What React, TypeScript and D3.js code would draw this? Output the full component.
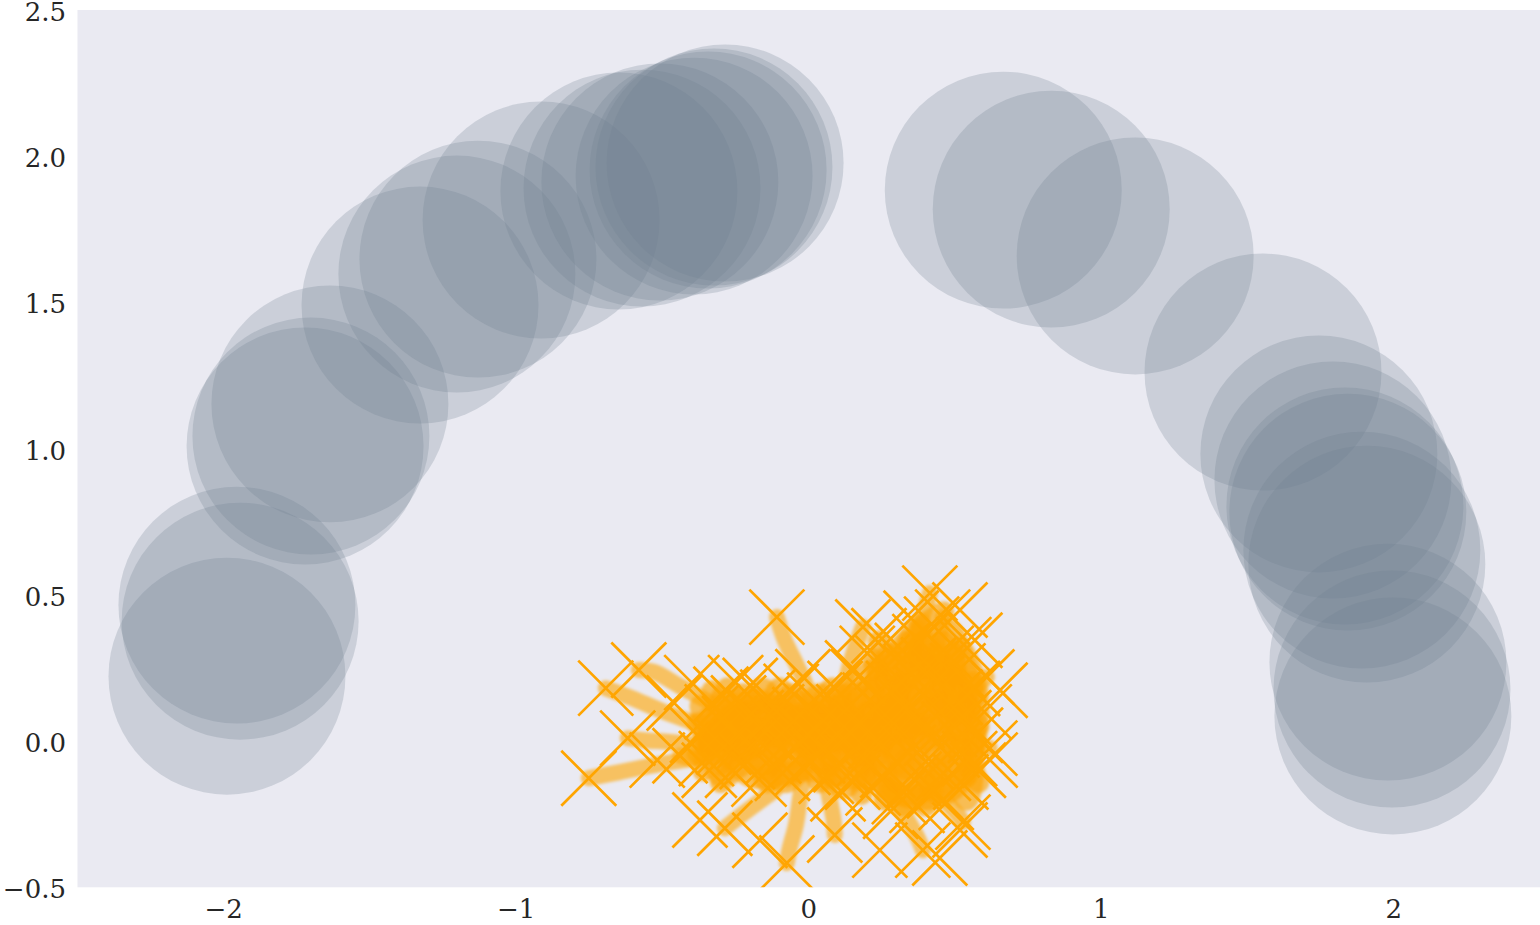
import React from 'react';
import * as d3 from 'd3';

const W = 1540;
const H = 925;

// Axis ticks
const xTicks = [-2, -1, 0, 1, 2];
const yTicks = [-0.5, 0, 0.5, 1, 1.5, 2, 2.5];

// Obstacle circles (centres, data units)
const circleX = [
  -1.989, -1.955, -1.944, -1.722, -1.702, -1.637, -1.329, -1.203, -1.131, -0.915,
  -0.649, -0.570, -0.509, -0.392, -0.344, -0.324, -0.286,
  0.665, 0.829, 1.116, 1.553, 1.744, 1.792, 1.833, 1.843, 1.891, 1.908, 1.980, 1.994, 1.997,
];
const circleY = [
  0.222, 0.465, 0.410, 1.009, 1.043, 1.153, 1.491, 1.597, 1.648, 1.782,
  1.881, 1.891, 1.912, 1.932, 1.953, 1.963, 1.977,
  1.884, 1.819, 1.659, 1.262, 0.982, 0.893, 0.804, 0.783, 0.653, 0.605, 0.270, 0.178, 0.086,
];
const circleRadius = 0.405;

// Agent trails that leave the central swarm
const outerTrails: number[][][] = [
  [[-0.356, -0.055], [-0.510, -0.079], [-0.646, -0.106], [-0.752, -0.127]],
  [[-0.339, 0.044], [-0.492, 0.099], [-0.605, 0.147], [-0.694, 0.181]],
  [[-0.321, 0.123], [-0.441, 0.188], [-0.527, 0.236], [-0.581, 0.243]],
  [[0.010, 0.123], [-0.010, 0.192], [-0.041, 0.260], [-0.082, 0.345], [-0.109, 0.424]],
  [[0.113, 0.140], [0.140, 0.260], [0.168, 0.345], [0.185, 0.390]],
  [[0.352, 0.209], [0.363, 0.311], [0.386, 0.414], [0.407, 0.482], [0.414, 0.506]],
  [[-0.021, -0.133], [-0.031, -0.202], [-0.044, -0.287], [-0.065, -0.366], [-0.075, -0.417]],
  [[0.055, -0.116], [0.072, -0.202], [0.085, -0.270], [0.089, -0.321]],
  [[-0.116, -0.168], [-0.185, -0.219], [-0.243, -0.263], [-0.287, -0.298]],
  [[0.277, -0.168], [0.328, -0.253], [0.373, -0.332], [0.390, -0.373]],
  [[0.414, -0.133], [0.465, -0.202], [0.510, -0.253], [0.527, -0.277]],
  [[-0.373, -0.014], [-0.475, -0.003], [-0.561, 0.003], [-0.619, 0.010]],
  [[0.482, 0.140], [0.557, 0.174], [0.609, 0.219]],
  [[0.516, 0.003], [0.585, -0.014], [0.619, -0.024]],
  [[0.431, 0.277], [0.448, 0.363], [0.458, 0.424]],
  [[-0.30, -0.02], [-0.38, -0.06], [-0.44, -0.05]],
];

// Agent trails inside the dense swarm
const coreTrails: number[][][] = [
  [[-0.36, 0.00], [-0.25, 0.08], [-0.12, 0.02], [0.00, 0.10], [0.12, 0.04], [0.25, 0.12], [0.40, 0.05], [0.55, 0.12]],
  [[-0.34, 0.08], [-0.22, -0.04], [-0.10, 0.07], [0.02, -0.03], [0.15, 0.07], [0.28, -0.02], [0.42, 0.12], [0.54, 0.00]],
  [[-0.30, -0.08], [-0.18, 0.12], [-0.06, -0.06], [0.06, 0.12], [0.18, -0.05], [0.32, 0.20], [0.46, -0.05], [0.56, 0.20]],
  [[-0.28, 0.14], [-0.15, -0.10], [-0.03, 0.14], [0.08, -0.08], [0.20, 0.18], [0.34, -0.10], [0.48, 0.22], [0.58, 0.05]],
  [[0.22, 0.28], [0.30, 0.10], [0.38, 0.30], [0.45, 0.12], [0.50, 0.30], [0.42, -0.15], [0.30, -0.18], [0.22, -0.10]],
  [[0.28, 0.25], [0.36, -0.02], [0.44, -0.18], [0.52, -0.08], [0.48, 0.08], [0.40, 0.22], [0.33, 0.34], [0.26, 0.20]],
  [[-0.38, -0.04], [-0.30, 0.04], [-0.22, 0.16], [-0.14, 0.06], [-0.08, -0.12], [0.04, 0.03], [0.10, -0.12], [0.16, 0.16]],
  [[0.38, 0.40], [0.41, 0.28], [0.46, 0.34], [0.52, 0.18], [0.57, -0.02], [0.50, -0.16], [0.38, -0.20], [0.26, -0.16]],
  [[-0.20, 0.05], [-0.05, 0.00], [0.10, 0.00], [0.25, 0.04], [0.40, 0.00]],
  [[-0.32, 0.02], [-0.20, -0.12], [0.00, -0.10], [0.18, -0.12], [0.34, 0.16], [0.50, 0.10]],
  [[-0.37, 0.12], [-0.30, -0.12], [-0.22, 0.10], [-0.14, -0.14], [-0.06, 0.16], [0.04, -0.14], [0.12, 0.16], [0.20, -0.14]],
  [[-0.36, -0.10], [-0.28, 0.18], [-0.18, -0.02], [-0.10, 0.18], [-0.02, -0.02], [0.08, 0.18], [0.16, -0.02], [0.24, 0.24]],
  [[-0.33, 0.17], [-0.24, 0.00], [-0.16, 0.18], [-0.06, 0.04], [0.04, 0.16], [0.14, -0.06], [0.22, 0.10], [0.30, -0.08]],
  [[-0.30, -0.14], [-0.18, -0.06], [-0.08, -0.14], [0.02, -0.06], [0.12, -0.16], [0.22, -0.04], [0.32, -0.22], [0.44, -0.10]],
  [[0.24, 0.34], [0.30, 0.22], [0.36, 0.38], [0.42, 0.22], [0.48, 0.38], [0.54, 0.24], [0.58, 0.10], [0.54, -0.12]],
  [[0.26, -0.20], [0.34, -0.06], [0.40, -0.22], [0.46, -0.08], [0.54, -0.20], [0.56, 0.00], [0.50, 0.16], [0.44, 0.30]],
  [[0.20, 0.10], [0.28, 0.30], [0.34, 0.04], [0.40, 0.34], [0.46, 0.18], [0.52, 0.32], [0.58, 0.16]],
  [[0.18, -0.18], [0.24, 0.02], [0.30, -0.14], [0.36, 0.08], [0.44, 0.02], [0.52, -0.04], [0.58, -0.14]],
  [[-0.38, 0.06], [-0.26, -0.06], [-0.14, 0.12], [-0.02, 0.06], [0.10, 0.12], [0.22, 0.02], [0.36, 0.24], [0.50, 0.22]],
  [[-0.34, -0.02], [-0.20, 0.14], [-0.08, 0.10], [0.06, 0.06], [0.18, 0.22], [0.30, 0.28], [0.40, 0.40], [0.46, 0.44]],
];

// Final agent positions (X markers)
const markerX = [
  -0.752, -0.694, -0.581, -0.109, 0.185, 0.414, -0.075, 0.089, -0.287, 0.390, 0.527, -0.619, 0.609, 0.619, 0.458, -0.44,
  -0.518, -0.40, -0.46, 0.517, 0.568, 0.654, 0.62, 0.517, 0.448, 0.243, -0.372, -0.167,
  -0.38, -0.35, -0.33, -0.30, -0.29, -0.27, -0.26, -0.24, -0.22, -0.21, -0.20, -0.18, -0.17, -0.15, -0.14, -0.12, -0.11,
  -0.09, -0.08, -0.06, -0.05, -0.03, -0.02, 0.00,
  0.02, 0.03, 0.05, 0.06, 0.08, 0.09, 0.11, 0.12, 0.14, 0.15,
  0.17, 0.18, 0.19, 0.21, 0.22, 0.23, 0.25, 0.26, 0.27, 0.29, 0.30, 0.31, 0.32, 0.33, 0.34, 0.35, 0.36, 0.37, 0.38,
  0.39, 0.40, 0.41, 0.42, 0.43, 0.44, 0.45, 0.46, 0.47, 0.48, 0.49, 0.50, 0.51, 0.52, 0.53, 0.55, 0.56, 0.57, 0.58,
  0.42, 0.37, 0.28, 0.20, 0.15, -0.02, -0.25, -0.34, 0.10, 0.60, 0.53, 0.47, 0.35, 0.24,
];
const markerY = [
  -0.127, 0.181, 0.243, 0.424, 0.390, 0.506, -0.417, -0.321, -0.298, -0.373, -0.277, 0.010, 0.219, -0.024, 0.424, -0.05,
  -0.065, 0.20, 0.13, 0.448, 0.345, 0.174, -0.065, -0.304, -0.400, -0.373, -0.27, -0.339,
  0.02, -0.06, 0.10, 0.16, -0.02, 0.06, -0.10, 0.13, 0.00, -0.07, 0.19, 0.08, -0.13, 0.03, 0.15, -0.05, 0.10,
  -0.11, 0.04, 0.17, -0.02, 0.09, -0.09, 0.02,
  0.14, -0.05, 0.07, -0.12, 0.01, 0.18, -0.08, 0.10, 0.03, -0.14,
  0.22, 0.06, -0.06, 0.14, -0.16, 0.00, 0.27, 0.09, -0.10, 0.18, 0.03, -0.19, 0.31, 0.12, -0.04, 0.23, -0.13, 0.07, 0.34,
  0.16, -0.07, 0.26, 0.01, -0.17, 0.20, 0.10, -0.11, 0.30, 0.04, -0.03, 0.15, 0.24, -0.14, 0.08, -0.06, 0.18, 0.02, -0.10,
  0.40, -0.22, -0.24, 0.30, 0.25, 0.22, 0.20, -0.10, -0.18, 0.10, 0.33, -0.21, 0.42, 0.36,
];

const ORANGE = '#FFA500';

export default function App() {
  const x = d3.scaleLinear().domain([-2.5, 2.5]).range([77.5, 1540]);
  const y = d3.scaleLinear().domain([-0.5, 2.5]).range([887.3, 10]);
  const r = x(circleRadius) - x(0);
  const line = d3
    .line<number[]>()
    .x((d) => x(d[0]))
    .y((d) => y(d[1]))
    .curve(d3.curveCatmullRom.alpha(0.5));
  const fmtY = d3.format('.1f');
  const fmtX = d3.format('d');
  const ms = 27.5;

  return (
    <svg
      width={W}
      height={H}
      style={{ position: 'absolute', left: 0, top: 0, background: '#ffffff' }}
      fontFamily="'DejaVu Serif', serif"
    >
      <defs>
        <filter id="soft" x="-10%" y="-10%" width="120%" height="120%">
          <feGaussianBlur stdDeviation="1.6" />
        </filter>
        <clipPath id="plot">
          <rect x={x(-2.5)} y={y(2.5)} width={x(2.5) - x(-2.5)} height={y(-0.5) - y(2.5)} />
        </clipPath>
      </defs>
      <rect x={x(-2.5)} y={y(2.5)} width={x(2.5) - x(-2.5)} height={y(-0.5) - y(2.5)} fill="#EAEAF2" />
      <g clipPath="url(#plot)">
        {circleX.map((cx, i) => (
          <circle key={i} cx={x(cx)} cy={y(circleY[i])} r={r} fill="#708090" fillOpacity={0.25} />
        ))}
        <g filter="url(#soft)">
          {coreTrails.map((t, i) => (
            <path
              key={'c' + i}
              d={line(t) || ''}
              fill="none"
              stroke={ORANGE}
              strokeOpacity={0.65}
              strokeWidth={22}
              strokeLinecap="round"
              strokeLinejoin="round"
            />
          ))}
          {outerTrails.map((t, i) => (
            <path
              key={'o' + i}
              d={line(t) || ''}
              fill="none"
              stroke={ORANGE}
              strokeOpacity={0.6}
              strokeWidth={16}
              strokeLinecap="round"
              strokeLinejoin="round"
            />
          ))}
        </g>
        {markerX.map((mx, i) => {
          const px = x(mx);
          const py = y(markerY[i]);
          return (
            <path
              key={i}
              d={`M${px - ms},${py - ms}L${px + ms},${py + ms}M${px - ms},${py + ms}L${px + ms},${py - ms}`}
              stroke={ORANGE}
              strokeWidth={2.7}
              fill="none"
            />
          );
        })}
      </g>
      {yTicks.map((t) => (
        <text key={t} x={66} y={y(t)} dy="0.42em" textAnchor="end" fontSize={26} fill="#262626">
          {fmtY(t)}
        </text>
      ))}
      {xTicks.map((t) => (
        <text key={t} x={x(t)} y={918} textAnchor="middle" fontSize={26} fill="#262626">
          {fmtX(t)}
        </text>
      ))}
    </svg>
  );
}
